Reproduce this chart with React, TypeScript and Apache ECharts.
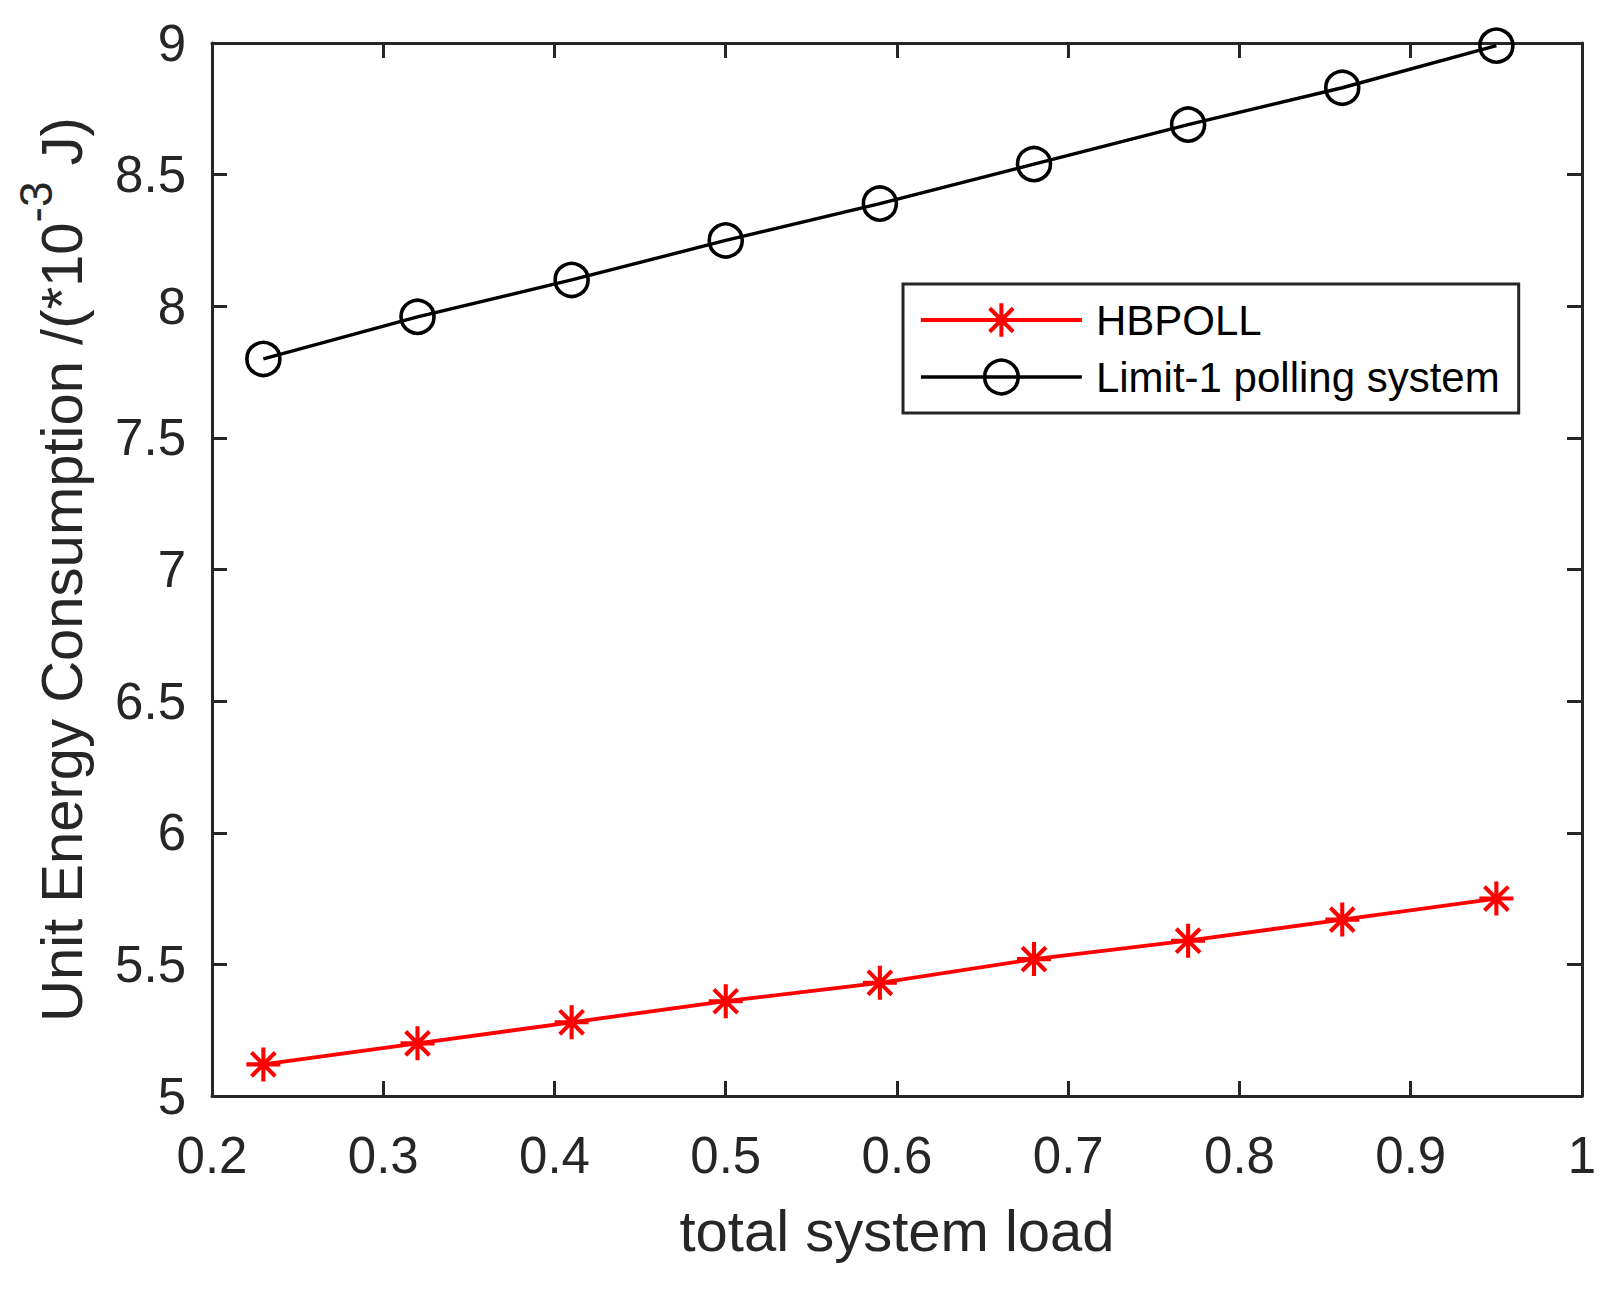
import React, { useEffect, useRef } from "react";
import * as echarts from "echarts";

const loads = [0.23, 0.32, 0.41, 0.5, 0.59, 0.68, 0.77, 0.86, 0.95];
const hbpollValues = [5.12, 5.2, 5.28, 5.36, 5.43, 5.52, 5.59, 5.67, 5.75];
const limit1Values = [7.8, 7.96, 8.1, 8.25, 8.39, 8.54, 8.69, 8.83, 8.99];
const seriesNames = ["HBPOLL", "Limit-1 polling system"];
const xTitle = "total system load";
const yTitleMain = "Unit Energy Consumption /(*10";
const yTitleSup = "-3";
const yTitleEnd = " J)";

const FONT = "'Liberation Sans', Arial, Helvetica, sans-serif";
const AXIS_COLOR = "#262626";

const ASTERISK =
  "path://M44 0H56V100H44Z M0 44H100V56H0Z M19.24 10.76L89.24 80.76L80.76 89.24L10.76 19.24Z M89.24 19.24L19.24 89.24L10.76 80.76L80.76 10.76Z";

export default function App() {
  const ref = useRef<HTMLDivElement>(null);

  useEffect(() => {
    if (!ref.current) return;
    const chart = echarts.init(ref.current, undefined, { renderer: "svg" });

    const axisCommon = {
      axisLine: { show: true, lineStyle: { color: AXIS_COLOR, width: 3 } },
      axisTick: { show: true, inside: true, length: 15, lineStyle: { color: AXIS_COLOR, width: 3 } },
      splitLine: { show: false },
    };

    const redLine = { color: "#ff0000", width: 3.8 };
    const blackLine = { color: "#000000", width: 3.4 };
    const redItem = { color: "#ff0000" };
    const blackItem = { color: "rgba(0,0,0,0)", borderColor: "#000000", borderWidth: 3.6 };

    const option: any = {
      animation: false,
      backgroundColor: "#ffffff",
      grid: { left: 212, top: 43, width: 1370, height: 1053, containLabel: false },
      legend: {
        orient: "vertical",
        left: 903,
        top: 284,
        padding: [15, 19, 15, 16],
        itemWidth: 161,
        itemHeight: 42,
        itemGap: 15,
        borderColor: AXIS_COLOR,
        borderWidth: 3,
        backgroundColor: "#ffffff",
        data: [
          { name: seriesNames[0], lineStyle: redLine, itemStyle: redItem },
          { name: seriesNames[1], lineStyle: blackLine, itemStyle: blackItem },
        ],
        textStyle: { fontSize: 42, color: "#000000", fontFamily: FONT, padding: [0, 0, 0, 9] },
      },
      xAxis: [
        {
          type: "value",
          position: "bottom",
          min: 0.2,
          max: 1,
          interval: 0.1,
          name: xTitle,
          nameLocation: "middle",
          nameGap: 105,
          nameTextStyle: { fontSize: 58, color: AXIS_COLOR, fontFamily: FONT },
          axisLabel: { fontSize: 51, color: AXIS_COLOR, fontFamily: FONT, margin: 34 },
          ...axisCommon,
        },
        {
          type: "value",
          position: "top",
          min: 0.2,
          max: 1,
          interval: 0.1,
          axisLabel: { show: false },
          ...axisCommon,
        },
      ],
      yAxis: [
        {
          type: "value",
          position: "left",
          min: 5,
          max: 9,
          interval: 0.5,
          name: "{a|" + yTitleMain + "}{sup|" + yTitleSup + "}{a|" + yTitleEnd + "}",
          nameLocation: "middle",
          nameGap: 102,
          nameTextStyle: {
            fontSize: 58,
            color: AXIS_COLOR,
            fontFamily: FONT,
            rich: {
              a: { fontSize: 58, lineHeight: 97, color: AXIS_COLOR, fontFamily: FONT },
              sup: { fontSize: 46, lineHeight: 46, verticalAlign: "top", color: AXIS_COLOR, fontFamily: FONT },
            },
          },
          axisLabel: { fontSize: 51, color: AXIS_COLOR, fontFamily: FONT, margin: 26 },
          ...axisCommon,
        },
        {
          type: "value",
          position: "right",
          min: 5,
          max: 9,
          interval: 0.5,
          axisLabel: { show: false },
          ...axisCommon,
        },
      ],
      series: [
        {
          name: seriesNames[0],
          type: "line",
          clip: false,
          data: loads.map((x, i) => [x, hbpollValues[i]]),
          symbol: ASTERISK,
          symbolSize: 34,
          lineStyle: redLine,
          itemStyle: redItem,
          emphasis: { disabled: true },
          z: 3,
        },
        {
          name: seriesNames[1],
          type: "line",
          clip: false,
          data: loads.map((x, i) => [x, limit1Values[i]]),
          symbol: "circle",
          symbolSize: 33,
          lineStyle: blackLine,
          itemStyle: blackItem,
          emphasis: { disabled: true },
          z: 3,
        },
      ],
    };

    chart.setOption(option);
    return () => chart.dispose();
  }, []);

  return (
    <div
      ref={ref}
      style={{ position: "fixed", left: 0, top: 0, width: 1619, height: 1289, background: "#fff" }}
    />
  );
}
